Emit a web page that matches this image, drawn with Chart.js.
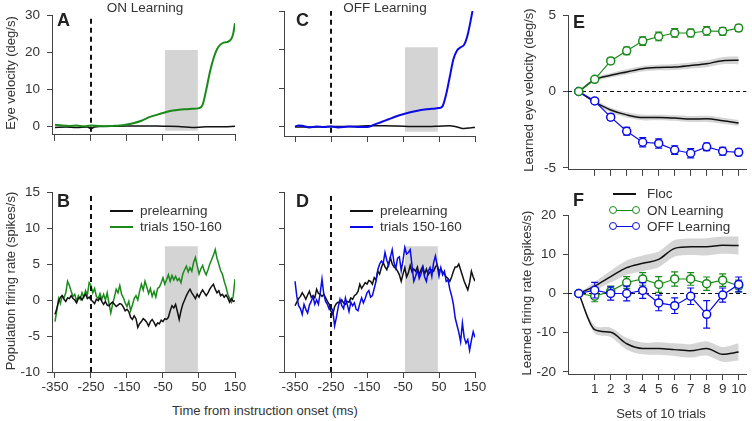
<!DOCTYPE html>
<html>
<head>
<meta charset="utf-8">
<script src="https://cdn.jsdelivr.net/npm/chart.js@4.4.0/dist/chart.umd.min.js"></script>
<style>
  body { margin: 0; background: #fff; width: 752px; height: 421px; overflow: hidden; position: relative;
         font-family: 'Liberation Sans', Arial, Helvetica, sans-serif; color: #333; }
  .panel { position: absolute; }
  .txt { position: absolute; font-size: 13.5px; line-height: 1; white-space: nowrap; }
  .mid { transform: translate(-50%, -50%); }
  .vmid { transform: translateY(-50%); }
  .rot { transform: translate(-50%, -50%) rotate(-90deg); font-size: 13px; }
  .letter { position: absolute; font-size: 18px; font-weight: bold; line-height: 1; color: #222; }
  .swatch { position: absolute; height: 2px; }
  .dot { position: absolute; width: 6px; height: 6px; border-radius: 50%; background: #fff; border: 1.5px solid; }
</style>
</head>
<body>
<div class="panel" style="left:0;top:0;width:250px;height:150px"><canvas id="cA"></canvas></div>
<div class="panel" style="left:0;top:150px;width:250px;height:252px"><canvas id="cB"></canvas></div>
<div class="panel" style="left:240px;top:0;width:250px;height:150px"><canvas id="cC"></canvas></div>
<div class="panel" style="left:240px;top:150px;width:250px;height:252px"><canvas id="cD"></canvas></div>
<div class="panel" style="left:500px;top:0;width:252px;height:185px"><canvas id="cE"></canvas></div>
<div class="panel" style="left:500px;top:185px;width:252px;height:236px"><canvas id="cF"></canvas></div>

<div class="letter" style="left:57px;top:10.6px">A</div>
<div class="letter" style="left:57px;top:191.6px">B</div>
<div class="letter" style="left:296px;top:10.6px">C</div>
<div class="letter" style="left:296px;top:191.6px">D</div>
<div class="letter" style="left:573px;top:12.6px">E</div>
<div class="letter" style="left:573px;top:190.6px">F</div>

<div class="txt mid" style="left:145px;top:8px">ON Learning</div>
<div class="txt mid" style="left:385px;top:8px">OFF Learning</div>

<div class="txt rot" style="left:10px;top:73px">Eye velocity (deg/s)</div>
<div class="txt rot" style="left:10px;top:281px">Population firing rate (spikes/s)</div>
<div class="txt mid" style="left:265px;top:410px;font-size:13px">Time from instruction onset (ms)</div>
<div class="txt rot" style="left:528px;top:90px">Learned eye velocity (deg/s)</div>
<div class="txt rot" style="left:526px;top:293px">Learned firing rate (spikes/s)</div>
<div class="txt mid" style="left:661px;top:413px;font-size:13px">Sets of 10 trials</div>

<!-- legend B -->
<div class="swatch" style="left:110px;top:210px;width:23px;background:#111"></div>
<div class="txt vmid" style="left:140px;top:211px">prelearning</div>
<div class="swatch" style="left:110px;top:226px;width:23px;background:#1a8a1a"></div>
<div class="txt vmid" style="left:140px;top:227px">trials 150-160</div>
<!-- legend D -->
<div class="swatch" style="left:350px;top:210px;width:23px;background:#111"></div>
<div class="txt vmid" style="left:380px;top:211px">prelearning</div>
<div class="swatch" style="left:350px;top:226px;width:23px;background:#0a0ae6"></div>
<div class="txt vmid" style="left:380px;top:227px">trials 150-160</div>
<!-- legend F -->
<div class="swatch" style="left:613px;top:193px;width:23px;height:1.5px;background:#111"></div>
<div class="txt vmid" style="left:647px;top:194px">Floc</div>
<div class="swatch" style="left:613px;top:210px;width:23px;height:1.2px;background:#1a8a1a"></div>
<div class="dot" style="left:608.5px;top:206px;border-color:#1a8a1a"></div>
<div class="dot" style="left:631.5px;top:206px;border-color:#1a8a1a"></div>
<div class="txt vmid" style="left:647px;top:211px">ON Learning</div>
<div class="swatch" style="left:613px;top:226px;width:23px;height:1.2px;background:#0a0ae6"></div>
<div class="dot" style="left:608.5px;top:222px;border-color:#0a0ae6"></div>
<div class="dot" style="left:631.5px;top:222px;border-color:#0a0ae6"></div>
<div class="txt vmid" style="left:647px;top:227px">OFF Learning</div>

<script>
// ---- data ----
// eye velocity (deg/s), smooth traces
const onEyeT  = [-350,-330,-310,-290,-270,-250,-230,-210,-190,-170,-150,-130,-110,-90,-70,-50,-30,-10,10,30,50,60,70,80,90,100,110,120,130,140,145,150];
const onEyeV  = [0.4,0.2,0.1,0.2,0.0,0.2,0.1,0.0,0.1,0.2,0.5,0.9,1.5,2.4,3.0,3.6,4.1,4.4,4.6,4.7,4.9,5.8,9.8,14.5,18.2,20.8,22.1,22.6,22.8,23.6,25.0,27.8];
const preEyeAT = [-350,-320,-290,-260,-250,-240,-200,-150,-100,-50,0,30,60,90,120,150];
const preEyeAV = [-0.3,-0.2,-0.3,-0.2,-0.6,-0.2,0.0,0.1,0.1,0.0,-0.1,-0.3,-0.2,-0.1,-0.1,0.0];
const offEyeT = [-350,-340,-330,-310,-290,-270,-250,-230,-200,-170,-150,-130,-110,-90,-70,-50,-30,-10,10,30,50,60,70,80,90,100,110,120,130,140,143];
const offEyeV = [0.1,0.4,0.3,-0.1,0.1,0.0,0.1,-0.1,0.1,0.0,0.0,0.6,1.3,2.0,2.7,3.3,3.8,4.2,4.5,4.7,4.9,5.4,8.5,13.0,17.5,19.8,20.6,21.3,24.0,28.5,30.0];
const preEyeCT = [-350,-300,-250,-200,-150,-100,-50,0,50,80,100,120,140,150];
const preEyeCV = [0.0,0.0,0.1,0.1,0.3,0.3,0.2,0.1,0.2,0.3,0.0,-0.4,-0.2,-0.1];

// population firing rate (spikes/s), 5 ms bins
const timeMs = [-350,-345,-340,-335,-330,-325,-320,-315,-310,-305,-300,-295,-290,-285,-280,-275,-270,-265,-260,-255,
  -250,-245,-240,-235,-230,-225,-220,-215,-210,-205,-200,-195,-190,-185,-180,-175,-170,-165,-160,-155,
  -150,-145,-140,-135,-130,-125,-120,-115,-110,-105,-100,-95,-90,-85,-80,-75,-70,-65,-60,-55,
  -50,-45,-40,-35,-30,-25,-20,-15,-10,-5,0,5,10,15,20,25,30,35,40,45,
  50,55,60,65,70,75,80,85,90,95,100,105,110,115,120,125,130,135,140,145,150];
const onRate = [-3.0,-1.5,0.2,-0.5,0.6,0.3,1.0,2.6,2.0,1.2,
  0.5,0.8,-0.2,0.6,0.1,1.0,0.4,1.3,0.7,2.4,
  2.0,1.0,1.6,0.5,0.2,0.9,0.1,0.8,0.0,1.0,
  -0.5,-1.8,-0.6,0.4,1.5,1.0,2.0,0.8,0.3,-0.4,
  -0.9,-0.2,-1.5,-0.7,0.2,0.6,0.0,1.2,2.2,1.4,
  2.6,1.8,0.9,1.6,0.5,1.2,0.4,1.6,1.8,2.4,
  3.1,2.2,2.8,3.5,2.6,3.4,2.8,3.3,2.7,3.0,
  2.4,3.6,4.2,4.7,3.9,4.5,4.0,5.2,5.9,4.8,
  3.6,4.3,4.8,4.0,3.5,4.2,5.0,5.6,6.2,7.0,
  5.8,5.0,4.1,3.6,2.6,1.8,0.8,0.2,-0.3,0.5,
  2.9];
const preRateB = [-2.0,-1.2,-0.2,0.4,0.6,0.1,-0.2,0.3,0.2,0.6,
  0.2,0.0,-0.4,0.2,0.4,0.0,0.5,0.8,0.2,0.4,
  0.0,-0.2,-0.5,0.1,-0.1,0.3,-0.2,-0.6,-0.2,-0.7,
  -0.8,-0.5,-0.3,-0.6,-0.9,-0.7,-0.5,-0.6,-1.0,-1.5,
  -1.3,-1.6,-2.4,-2.7,-2.2,-2.6,-3.8,-3.3,-3.0,-2.6,
  -2.8,-3.1,-3.6,-3.0,-2.7,-3.1,-3.6,-3.2,-3.3,-2.8,
  -3.0,-2.6,-2.7,-2.4,-1.5,-0.8,-1.1,-0.6,-1.6,-2.7,
  -1.5,-0.6,0.0,0.6,1.1,1.5,1.0,0.6,0.2,0.8,
  0.4,1.0,1.4,1.0,0.6,1.0,1.5,1.9,2.2,1.5,
  1.0,1.3,0.6,0.8,0.4,0.7,0.3,-0.3,0.2,-0.2,
  -0.1];
const offRate = [2.6,0.5,-0.8,-1.2,-2.0,-0.6,-1.3,-1.8,-0.7,-0.2,
  0.5,-0.6,0.0,-0.6,1.0,2.9,0.8,-0.2,-0.6,-1.3,
  -1.0,-1.5,-3.6,-2.4,-1.0,0.1,-0.8,-1.2,0.3,-0.6,
  -1.6,-0.3,-0.8,-0.4,-1.3,-1.5,-0.5,0.3,-0.4,0.2,
  1.0,1.3,0.4,0.6,1.6,2.6,4.2,5.0,5.4,5.1,
  6.6,5.5,4.8,6.0,7.0,5.2,4.4,5.8,6.0,4.1,
  5.5,7.3,6.4,6.6,7.0,4.8,2.6,3.3,4.2,3.0,
  3.6,4.5,3.2,2.6,4.0,4.5,3.3,5.2,6.1,4.8,
  3.3,4.5,3.5,4.0,2.6,2.8,1.5,0.6,-0.6,-2.5,
  -3.5,-4.5,-5.8,-3.2,-5.2,-6.0,-5.5,-7.0,-5.6,-4.4,
  -5.2];
const preRateD = [-0.8,-0.3,0.2,0.5,1.0,0.6,0.1,0.7,1.2,0.4,
  0.6,0.3,1.5,0.9,0.8,0.5,0.8,0.3,-0.2,-0.6,
  -1.6,-2.0,-0.9,-0.5,-0.3,-0.4,0.0,-0.4,-0.6,-0.2,
  -0.3,0.3,0.1,0.6,0.8,1.2,2.2,1.6,2.0,2.4,
  2.2,2.7,2.6,2.2,3.1,2.8,4.0,3.6,4.5,5.2,
  4.6,4.2,5.0,5.9,5.0,4.6,4.4,4.0,3.5,2.6,
  3.6,4.5,3.2,3.8,4.8,3.9,4.3,4.0,4.6,3.5,
  4.2,4.7,3.6,4.3,3.5,3.9,4.2,4.0,4.6,4.9,
  4.0,4.3,3.8,3.6,3.2,3.0,2.6,3.2,4.0,4.6,
  4.6,5.0,4.2,3.4,2.6,2.0,1.4,2.4,4.0,3.2,
  2.6];

// learning curves
const sets = [0,1,2,3,4,5,6,7,8,9,10];
const onEye      = [0,0.8,2.0,2.66,3.3,3.6,3.83,3.83,3.96,3.94,4.15];
const onEyeErr   = [0,0.15,0.2,0.25,0.28,0.28,0.28,0.25,0.28,0.25,0.22];
const offEye     = [0,-0.62,-1.68,-2.6,-3.32,-3.4,-3.83,-4.04,-3.62,-3.91,-3.98];
const offEyeErr  = [0,0.15,0.2,0.25,0.3,0.3,0.28,0.3,0.25,0.25,0.22];
const flocEyeUp     = [0,0.77,1.06,1.28,1.49,1.57,1.6,1.7,1.81,2.02,2.04];
const flocEyeUpSem  = [0,0.12,0.15,0.17,0.18,0.18,0.2,0.2,0.22,0.24,0.25];
const flocEyeDn     = [0,-0.68,-1.21,-1.53,-1.7,-1.7,-1.74,-1.8,-1.79,-1.91,-2.06];
const flocEyeDnSem  = [0,0.12,0.15,0.17,0.18,0.18,0.18,0.2,0.2,0.2,0.2];
const onRateL     = [0,-0.7,0.6,2.8,3.7,2.3,3.7,3.7,2.5,3.4,1.9];
const onRateErr   = [0,1.4,1.3,1.5,1.6,2.0,1.8,1.6,1.7,1.6,1.5];
const offRateL    = [0,0.85,0,0,0.77,-2.4,-3.1,-0.7,-5.3,-0.4,2.3];
const offRateErr  = [0,2.0,1.7,1.9,2.0,2.0,2.0,2.1,3.5,1.8,1.9];
const flocRateUp    = [0,1.9,4.3,6.6,7.7,8.7,11.5,11.9,11.9,12.3,12.2];
const flocRateUpSem = [0,1.0,1.5,1.8,2.0,2.0,2.1,2.1,2.2,2.2,2.3];
const flocRateDn    = [0,-9.2,-9.9,-12.8,-14.0,-14.0,-14.3,-14.6,-14.0,-15.5,-14.9];
const flocRateDnSem = [0,1.0,1.2,1.5,1.5,1.6,1.6,1.7,1.8,1.9,2.2];

const timeTicks = [-350,-250,-150,-50,50,150];
const setTicks = [1,2,3,4,5,6,7,8,9,10];

// ---- style ----
const GREEN = '#1a8a1a';
const BLUE = '#0a0ae6';
const BLACK = '#111';
const BOX = '#d4d4d4';
const AXIS = '#444';

Chart.defaults.font.family = "'Liberation Sans', Arial, Helvetica, sans-serif";
Chart.defaults.font.size = 13.5;
Chart.defaults.color = '#333';
Chart.defaults.animation = false;
Chart.defaults.plugins.legend.display = false;
Chart.defaults.plugins.tooltip.enabled = false;
Chart.defaults.elements.point.radius = 0;

function pairs(xs, ys) { return xs.map((x, i) => ({ x: x, y: ys[i] })); }

function xScale(min, max, ticks, showLabels, height) {
  return {
    type: 'linear', min: min, max: max,
    afterBuildTicks: (s) => { s.ticks = ticks.map(v => ({ value: v })); },
    afterFit: (s) => { s.height = height; },
    ticks: { display: showLabels, padding: 1, maxRotation: 0, autoSkip: false },
    grid: { drawOnChartArea: false, tickLength: 6, tickColor: AXIS },
    border: { color: AXIS, width: 1 }
  };
}

function yScale(min, max, ticks, showLabels, width) {
  return {
    min: min, max: max,
    afterBuildTicks: (s) => { s.ticks = ticks.map(v => ({ value: v })); },
    afterFit: (s) => { s.width = width; },
    ticks: { display: showLabels, padding: 7, autoSkip: false },
    grid: { drawOnChartArea: false, tickLength: 5, tickColor: AXIS },
    border: { color: AXIS, width: 1 }
  };
}

function trace(data, color, width, smooth) {
  return { data: data, borderColor: color, borderWidth: width, pointRadius: 0, fill: false,
           cubicInterpolationMode: smooth ? 'monotone' : 'default', tension: 0 };
}

function vline(x, y0, y1) {
  return { data: [{ x: x, y: y0 }, { x: x, y: y1 }], borderColor: BLACK, borderWidth: 2,
           borderDash: [5, 4], pointRadius: 0, fill: false };
}

function box(x0, x1, y0, y1) {
  return { data: [{ x: x0, y: y1 }, { x: x1, y: y1 }], borderWidth: 0, borderColor: 'rgba(0,0,0,0)',
           pointRadius: 0, backgroundColor: BOX, fill: { target: { value: y0 } } };
}

function learnLine(ys, errs, color) {
  return { data: pairs(sets, ys), errors: errs, borderColor: color, borderWidth: 1.2,
           pointRadius: 4, pointBorderWidth: 1.5, pointBackgroundColor: '#fff', pointBorderColor: color, fill: false };
}

function bandPair(mean, sem) {
  const hi = mean.map((m, i) => m + sem[i]);
  const lo = mean.map((m, i) => m - sem[i]);
  return [
    { data: pairs(sets, hi), borderWidth: 0, pointRadius: 0, fill: false, tension: 0.3 },
    { data: pairs(sets, lo), borderWidth: 0, pointRadius: 0, fill: '-1', backgroundColor: 'rgba(185,185,185,0.6)', tension: 0.3 }
  ];
}

const errorBars = {
  id: 'errorBars',
  beforeDatasetDraw(chart, args) {
    const ds = chart.data.datasets[args.index];
    if (!ds.errors) return;
    const ctx = chart.ctx;
    const ys = chart.scales.y;
    ctx.save();
    ctx.strokeStyle = ds.borderColor;
    ctx.lineWidth = 1.2;
    args.meta.data.forEach((pt, i) => {
      const e = ds.errors[i];
      if (!e) return;
      const v = ds.data[i].y;
      const top = ys.getPixelForValue(v + e);
      const bot = ys.getPixelForValue(v - e);
      ctx.beginPath();
      ctx.moveTo(pt.x, top); ctx.lineTo(pt.x, bot);
      ctx.moveTo(pt.x - 3.5, top); ctx.lineTo(pt.x + 3.5, top);
      ctx.moveTo(pt.x - 3.5, bot); ctx.lineTo(pt.x + 3.5, bot);
      ctx.stroke();
    });
    ctx.restore();
  }
};

function options(pad, x, y) {
  return {
    responsive: true, maintainAspectRatio: false,
    layout: { padding: { top: pad.top, right: pad.right, left: 0, bottom: 0 } },
    scales: { x: x, y: y },
    plugins: { legend: { display: false } }
  };
}

// A: eye velocity, ON learning
new Chart(document.getElementById('cA'), {
  type: 'line',
  data: { datasets: [
    vline(-250, -1.5, 30),
    trace(pairs(onEyeT, onEyeV), GREEN, 2, true),
    trace(pairs(preEyeAT, preEyeAV), BLACK, 1.5, true),
    box(-45, 47, -1.2, 20.6)
  ] },
  options: options({ top: 11, right: 15 },
    xScale(-358.3, 150, timeTicks, false, 14),
    yScale(-2.33, 30, [0, 10, 20, 30], true, 52))
});

// C: eye velocity, OFF learning
new Chart(document.getElementById('cC'), {
  type: 'line',
  data: { datasets: [
    vline(-250, -1.5, 30),
    trace(pairs(offEyeT, offEyeV), BLUE, 2, true),
    trace(pairs(preEyeCT, preEyeCV), BLACK, 1.5, true),
    box(-45, 47, -1.2, 20.6)
  ] },
  options: options({ top: 11, right: 15 },
    xScale(-380.6, 150, timeTicks, false, 14),
    yScale(-2.33, 30, [0, 10, 20, 30], false, 44))
});

// B: firing rate, ON learning
new Chart(document.getElementById('cB'), {
  type: 'line',
  data: { datasets: [
    vline(-250, -10, 15),
    trace(pairs(timeMs, preRateB), BLACK, 1.5, false),
    trace(pairs(timeMs, onRate), GREEN, 1.5, false),
    box(-45, 47, -10, 7.46)
  ] },
  options: options({ top: 42, right: 15 },
    xScale(-358.3, 150, timeTicks, true, 30),
    yScale(-10, 15, [-10, -5, 0, 5, 10, 15], true, 52))
});

// D: firing rate, OFF learning
new Chart(document.getElementById('cD'), {
  type: 'line',
  data: { datasets: [
    vline(-250, -10, 15),
    trace(pairs(timeMs, offRate), BLUE, 1.5, false),
    trace(pairs(timeMs, preRateD), BLACK, 1.5, false),
    box(-45, 47, -10, 7.46)
  ] },
  options: options({ top: 42, right: 15 },
    xScale(-380.6, 150, timeTicks, true, 30),
    yScale(-10, 15, [-10, -5, 0, 5, 10, 15], false, 44))
});

// E: learned eye velocity
new Chart(document.getElementById('cE'), {
  type: 'line',
  data: { datasets: [
    learnLine(onEye, onEyeErr, GREEN),
    learnLine(offEye, offEyeErr, BLUE),
    trace(pairs(sets, flocEyeUp), BLACK, 1.5, true),
    trace(pairs(sets, flocEyeDn), BLACK, 1.5, true),
    { data: [{ x: -0.67, y: 0 }, { x: 10.5, y: 0 }], borderColor: BLACK, borderWidth: 1.2, borderDash: [4, 3], pointRadius: 0, fill: false },
    ...bandPair(flocEyeUp, flocEyeUpSem),
    ...bandPair(flocEyeDn, flocEyeDnSem)
  ] },
  options: options({ top: 11, right: 1 },
    xScale(-0.67, 10.49, setTicks, false, 15),
    yScale(-5.13, 5, [-5, 0, 5], true, 68)),
  plugins: [errorBars]
});

// F: learned firing rate
new Chart(document.getElementById('cF'), {
  type: 'line',
  data: { datasets: [
    learnLine(offRateL, offRateErr, BLUE),
    learnLine(onRateL, onRateErr, GREEN),
    trace(pairs(sets, flocRateUp), BLACK, 1.5, true),
    trace(pairs(sets, flocRateDn), BLACK, 1.5, true),
    { data: [{ x: -0.67, y: 0 }, { x: 10.5, y: 0 }], borderColor: BLACK, borderWidth: 1.2, borderDash: [4, 3], pointRadius: 0, fill: false },
    ...bandPair(flocRateUp, flocRateUpSem),
    ...bandPair(flocRateDn, flocRateDnSem)
  ] },
  options: options({ top: 30, right: 1 },
    xScale(-0.67, 10.49, setTicks, true, 47),
    yScale(-20.51, 20, [-20, -10, 0, 10, 20], true, 68)),
  plugins: [errorBars]
});
</script>
</body>
</html>
